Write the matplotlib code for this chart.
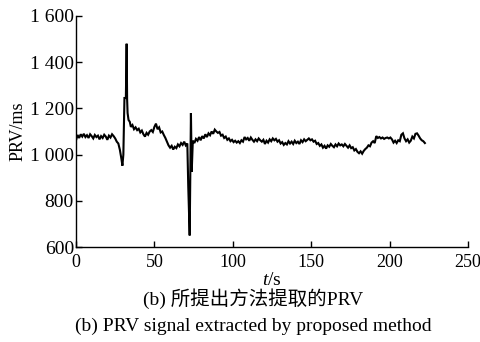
import matplotlib
matplotlib.use("Agg")
import matplotlib.pyplot as plt

# ---- data ----
t_s = [0, 1, 2, 3, 4, 5, 6, 7, 8, 9, 10, 11, 12, 13, 14, 15, 16, 17, 18, 19,
       20, 21, 22, 23, 24, 25, 26, 27, 28, 29, 29.6, 30.2, 30.9, 31.8, 32.3,
       32.6, 32.9, 33.5, 34.3, 35, 36, 37, 38, 39, 40, 41, 42, 43, 44, 45, 46,
       47, 48, 49, 50, 51, 52, 53, 54, 55, 56, 57, 58, 59, 60, 61, 62, 63, 64,
       65, 66, 67, 68, 69, 70, 71, 71.6, 72.5, 73.3, 73.8, 74.5, 75.5, 76.5,
       77.5, 78.5, 79.5, 80.5, 81.5, 82.5, 83.5, 84.5, 85.5, 86.5, 87.5, 88.5,
       89.5, 90.5, 91.5, 92.5, 93.5, 94.5, 95.5, 96.5, 97.5, 98.5, 99.5, 100.5,
       101.5, 102.5, 103.5, 104.5, 105.5, 106.5, 107.5, 108.5, 109.5, 110.5,
       111.5, 112.5, 113.5, 114.5, 115.5, 116.5, 117.5, 118.5, 119.5, 120.5,
       121.5, 122.5, 123.5, 124.5, 125.5, 126.5, 127.5, 128.5, 129.5, 130.5,
       131.5, 132.5, 133.5, 134.5, 135.5, 136.5, 137.5, 138.5, 139.5, 140.5,
       141.5, 142.5, 143.5, 144.5, 145.5, 146.5, 147.5, 148.5, 149.5, 150.5,
       151.5, 152.5, 153.5, 154.5, 155.5, 156.5, 157.5, 158.5, 159.5, 160.5,
       161.5, 162.5, 163.5, 164.5, 165.5, 166.5, 167.5, 168.5, 169.5, 170.5,
       171.5, 172.5, 173.5, 174.5, 175.5, 176.5, 177.5, 178.5, 179.5, 180.5,
       181.5, 182.5, 183.5, 184.5, 185.5, 186.5, 187.5, 188.5, 189.5, 190.5,
       191.5, 192.5, 193.5, 194.5, 195.5, 196.5, 197.5, 198.5, 199.5, 200.5,
       201.5, 202.5, 203.5, 204.5, 205.5, 206.5, 207.5, 208.5, 209.5, 210.5,
       211.5, 212.5, 213.5, 214.5, 215.5, 216.5, 217.5, 218.5, 219.5, 220.5,
       221.5, 222.5]
prv_ms = [1062, 1085, 1072, 1088, 1078, 1090, 1076, 1084, 1072, 1088, 1080,
          1070, 1085, 1076, 1082, 1066, 1080, 1072, 1086, 1078, 1064, 1082,
          1074, 1088, 1080, 1070, 1056, 1048, 1020, 980, 952, 1000, 1245, 1245,
          1480, 1240, 1180, 1150, 1142, 1120, 1128, 1110, 1118, 1106, 1112,
          1096, 1104, 1088, 1078, 1094, 1086, 1100, 1106, 1098, 1120, 1134,
          1110, 1118, 1096, 1100, 1085, 1072, 1056, 1040, 1030, 1038, 1022,
          1034, 1028, 1044, 1036, 1050, 1042, 1056, 1040, 1048, 860, 650, 1180,
          925, 1060, 1050, 1068, 1060, 1076, 1062, 1080, 1070, 1088, 1076,
          1092, 1084, 1100, 1090, 1108, 1100, 1094, 1098, 1082, 1086, 1072,
          1078, 1064, 1070, 1058, 1064, 1054, 1060, 1052, 1058, 1050, 1062,
          1056, 1076, 1066, 1072, 1060, 1074, 1064, 1056, 1066, 1058, 1070,
          1062, 1056, 1064, 1046, 1060, 1052, 1066, 1058, 1070, 1062, 1068,
          1056, 1062, 1048, 1054, 1042, 1050, 1044, 1058, 1048, 1056, 1046,
          1060, 1050, 1056, 1046, 1062, 1054, 1066, 1058, 1064, 1070, 1062,
          1066, 1056, 1060, 1046, 1050, 1038, 1044, 1030, 1038, 1026, 1040,
          1034, 1046, 1038, 1032, 1044, 1036, 1048, 1040, 1044, 1036, 1046,
          1038, 1030, 1040, 1028, 1032, 1018, 1024, 1012, 1006, 1014, 1004,
          1016, 1024, 1030, 1040, 1036, 1052, 1058, 1050, 1080, 1072, 1076,
          1070, 1074, 1068, 1072, 1074, 1070, 1074, 1066, 1052, 1060, 1050,
          1062, 1058, 1086, 1092, 1070, 1058, 1066, 1052, 1060, 1078, 1070,
          1090, 1092, 1082, 1070, 1062, 1058, 1050]

x_ticks = [0, 50, 100, 150, 200, 250]
y_ticks = [600, 800, 1000, 1200, 1400, 1600]
y_tick_labels = ["600", "800", "1 000", "1 200", "1 400", "1 600"]
x_label = "$\\it{t}$/s"
y_label = "PRV/ms"
caption_cn = "(b) 所提出方法提取的PRV"
caption_en = "(b) PRV signal extracted by proposed method"

plt.rcParams["font.family"] = ["Liberation Serif", "Noto Sans CJK SC"]
plt.rcParams["mathtext.fontset"] = "custom"
plt.rcParams["mathtext.it"] = "Liberation Serif:italic"
plt.rcParams["mathtext.rm"] = "Liberation Serif"

fig = plt.figure(figsize=(4.8, 3.42), dpi=100)
ax = fig.add_axes([76 / 480, 1 - 247 / 342, (468 - 76) / 480, (247 - 16) / 342])

ax.plot(t_s, prv_ms, color="black", lw=1.5, solid_joinstyle="miter")

ax.set_xlim(0, 250)
ax.set_ylim(600, 1600)
ax.set_xticks(x_ticks)
ax.set_yticks(y_ticks)
ax.set_yticklabels(y_tick_labels)
ax.spines["top"].set_visible(False)
ax.spines["right"].set_visible(False)
for s in ("left", "bottom"):
    ax.spines[s].set_linewidth(1.0)
ax.tick_params(direction="in", length=4, width=1.0)
ax.tick_params(axis="y", pad=1.5, labelsize=14)
ax.tick_params(axis="x", pad=5, labelsize=13)

ax.set_xlabel(x_label, fontsize=14, labelpad=1)
ax.set_ylabel(y_label, fontsize=13, labelpad=2)

fig.text(253 / 480, 1 - 299 / 342, caption_cn, ha="center", va="center", fontsize=14)
fig.text(253 / 480, 1 - 326 / 342, caption_en, ha="center", va="center", fontsize=14)

fig.savefig("out.png", dpi=100)
